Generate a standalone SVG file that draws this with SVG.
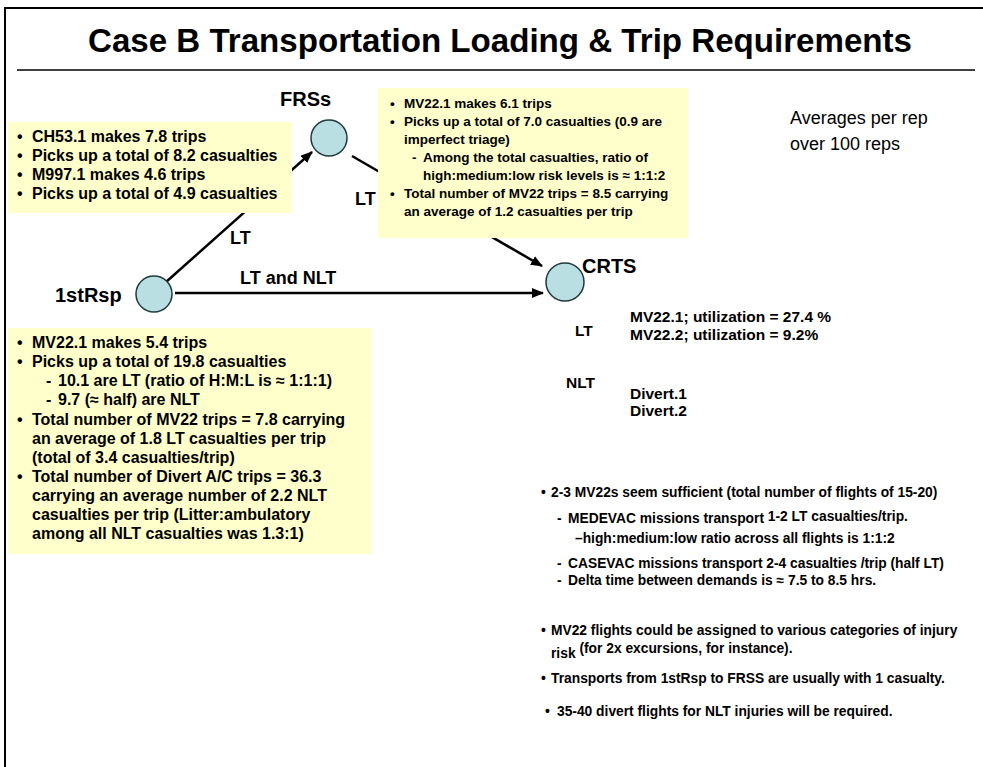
<svg xmlns="http://www.w3.org/2000/svg" width="983" height="767" viewBox="0 0 983 767">
<style>
text{font-family:"Liberation Sans",Arial,sans-serif;fill:#000;}
.b{font-weight:bold;}
.box{fill:#FFFFCC;stroke:none;}
.node{fill:#B9DFE2;stroke:#1E3A3C;stroke-width:1.5;}
.conn{stroke:#000;stroke-width:2.5;fill:none;marker-end:url(#arr);}
.lbl{font-weight:bold;font-size:20px;}
.cl{font-weight:bold;font-size:18px;}
.t16{font-weight:bold;font-size:16px;}
.t13{font-weight:bold;font-size:13.5px;}
.t15{font-weight:bold;font-size:15.5px;}
.t14{font-weight:bold;font-size:13.8px;}
.r{font-size:18px;}
</style>
<defs>
<marker id="arr" markerUnits="userSpaceOnUse" markerWidth="12" markerHeight="10" refX="11" refY="5" orient="auto">
<path d="M0,0 L12,5 L0,10 z" fill="#000"/>
</marker>
</defs>
<rect width="983" height="767" fill="#fff"/>
<g id="frame" stroke="#000" fill="none">
<line x1="4" y1="8" x2="983" y2="8" stroke-width="2"/>
<line x1="5" y1="8" x2="5" y2="767" stroke-width="2"/>
<line x1="17" y1="70" x2="975" y2="70" stroke-width="1.5"/>
</g>
<text id="title" x="88" y="52" class="b" font-size="33" textLength="824" lengthAdjust="spacingAndGlyphs">Case B Transportation Loading &amp; Trip Requirements</text>
<g id="connectors">
<line class="conn" x1="166" y1="282" x2="312" y2="152"/>
<line class="conn" x1="175" y1="293" x2="543" y2="293"/>
<line class="conn" x1="352" y1="156" x2="542" y2="266"/>
<text class="cl" x="230" y="244">LT</text>
<text class="cl" x="240" y="284">LT and NLT</text>
<text class="cl" x="355" y="205">LT</text>
</g>
<g id="box-1stRsp-FRSs">
<rect class="box" x="8" y="122" width="284" height="91"/>
<text class="t16" x="17" y="142">•<tspan x="32">CH53.1 makes 7.8 trips</tspan></text>
<text class="t16" x="17" y="161">•<tspan x="32">Picks up a total of 8.2 casualties</tspan></text>
<text class="t16" x="17" y="180">•<tspan x="32">M997.1 makes 4.6 trips</tspan></text>
<text class="t16" x="17" y="199">•<tspan x="32">Picks up a total of 4.9 casualties</tspan></text>
</g>
<g id="box-FRSs-CRTS">
<rect class="box" x="378" y="88" width="310" height="150"/>
<text class="t13" x="390" y="108">•<tspan x="404">MV22.1 makes 6.1 trips</tspan></text>
<text class="t13" x="390" y="126">•<tspan x="404">Picks up a total of 7.0 casualties (0.9 are</tspan></text>
<text class="t13" x="404" y="144">imperfect triage)</text>
<text class="t13" x="412" y="162">-<tspan x="423">Among the total casualties, ratio of</tspan></text>
<text class="t13" x="423" y="180">high:medium:low  risk levels is ≈ 1:1:2</text>
<text class="t13" x="390" y="198">•<tspan x="404">Total number of MV22 trips = 8.5 carrying</tspan></text>
<text class="t13" x="404" y="216">an average of 1.2 casualties per trip</text>
</g>
<g id="box-1stRsp-CRTS">
<rect class="box" x="8" y="328" width="364" height="226"/>
<text class="t16" x="17" y="348">•<tspan x="32">MV22.1 makes 5.4 trips</tspan></text>
<text class="t16" x="17" y="367">•<tspan x="32">Picks up a total of 19.8 casualties</tspan></text>
<text class="t16" x="46" y="386">-<tspan x="58">10.1 are LT (ratio of H:M:L is ≈ 1:1:1)</tspan></text>
<text class="t16" x="46" y="405">-<tspan x="58">9.7 (≈ half) are NLT</tspan></text>
<text class="t16" x="17" y="425">•<tspan x="32">Total number of MV22 trips = 7.8 carrying</tspan></text>
<text class="t16" x="32" y="444">an average of 1.8 LT casualties per trip</text>
<text class="t16" x="32" y="463">(total of 3.4 casualties/trip)</text>
<text class="t16" x="17" y="482">•<tspan x="32">Total number of Divert A/C trips = 36.3</tspan></text>
<text class="t16" x="32" y="501">carrying an average number of 2.2 NLT</text>
<text class="t16" x="32" y="520">casualties per trip (Litter:ambulatory</text>
<text class="t16" x="32" y="539">among all NLT casualties was 1.3:1)</text>
</g>
<g id="node-FRSs">
<circle class="node" cx="329" cy="138" r="18"/>
<text class="lbl" x="280" y="106">FRSs</text>
</g>
<g id="node-1stRsp">
<circle class="node" cx="154" cy="294" r="18"/>
<text class="lbl" x="55" y="302">1stRsp</text>
</g>
<g id="node-CRTS">
<circle class="node" cx="565" cy="282" r="19"/>
<text class="lbl" x="582" y="273">CRTS</text>
</g>
<g id="averages">
<text class="r" x="790" y="124">Averages per rep</text>
<text class="r" x="790" y="150">over 100 reps</text>
</g>
<g id="crts-resources">
<text class="t15" x="575" y="336">LT</text>
<text class="t15" x="630" y="322">MV22.1; utilization = 27.4 %</text>
<text class="t15" x="630" y="340">MV22.2; utilization = 9.2%</text>
<text class="t15" x="566" y="388">NLT</text>
<text class="t15" x="630" y="399">Divert.1</text>
<text class="t15" x="630" y="416">Divert.2</text>
</g>
<g id="conclusions">
<text class="t14" x="541" y="497">•<tspan x="551">2-3 MV22s seem sufficient (total number of flights of 15-20)</tspan></text>
<text class="t14" x="557" y="523">-<tspan x="568">MEDEVAC missions transport </tspan><tspan dy="-2">1-2 LT casualties/trip.</tspan></text>
<text class="t14" x="575" y="543">–high:medium:low ratio across all flights is 1:1:2</text>
<text class="t14" x="557" y="568">-<tspan x="568">CASEVAC missions transport 2-4 casualties /trip (half LT)</tspan></text>
<text class="t14" x="557" y="585">-<tspan x="568">Delta time between demands is ≈ 7.5 to 8.5 hrs.</tspan></text>
<text class="t14" x="541" y="635">•<tspan x="551">MV22 flights could be assigned to various categories of injury</tspan></text>
<text class="t14" x="551" y="658">risk<tspan dy="-5"> (for 2x excursions, for instance).</tspan></text>
<text class="t14" x="541" y="683">•<tspan x="551">Transports from 1stRsp to FRSS are usually with 1 casualty.</tspan></text>
<text class="t14" x="545" y="716">•<tspan x="557">35-40 divert flights for NLT injuries will be required.</tspan></text>
</g>
</svg>
